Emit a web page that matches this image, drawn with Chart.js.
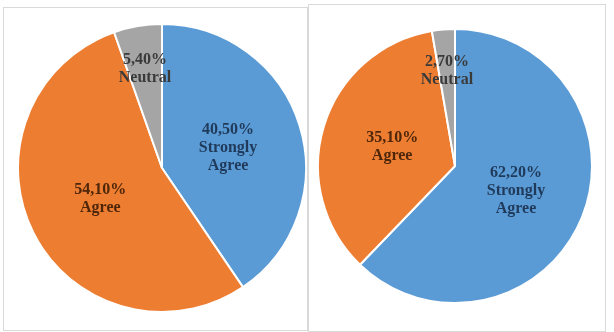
<!DOCTYPE html>
<html>
<head>
<meta charset="utf-8">
<script src="https://cdn.jsdelivr.net/npm/chart.js@4.4.0/dist/chart.umd.min.js"></script>
<style>
    body { margin: 0; width: 614px; height: 332px; background: #fff; position: relative; overflow: hidden; }
    .box { position: absolute; border: 1px solid #d9d9d9; box-sizing: border-box; }
    .wrap { position: absolute; }
</style>
</head>
<body>
<div class="box" style="left:3px; top:7px; width:305px; height:324px;"></div>
<div class="box" style="left:308px; top:4px; width:298px; height:328px;"></div>
<div class="wrap" style="left:17px; top:23px; width:290px; height:290px;"><canvas id="leftChart"></canvas></div>
<div class="wrap" style="left:317px; top:28px; width:276px; height:276px;"><canvas id="rightChart"></canvas></div>
<script>
const categories = ['Strongly Agree', 'Agree', 'Neutral'];
const labelWords = [['Strongly', 'Agree'], ['Agree'], ['Neutral']];
const leftValues = [40.5, 54.1, 5.4];
const rightValues = [62.2, 35.1, 2.7];

const sliceColors = ['#5b9bd5', '#ed7d31', '#a5a5a5'];
const textColors = ['#1f3a5a', '#4e260a', '#3a3a3a'];

const fmt = v => v.toFixed(2).replace('.', ',') + '%';

// draws "value% / name" inside each slice
const sliceLabels = {
    id: 'sliceLabels',
    afterDatasetsDraw(chart) {
        const ctx = chart.ctx;
        const meta = chart.getDatasetMeta(0);
        const values = chart.data.datasets[0].data;
        ctx.save();
        ctx.font = 'bold 16px "Liberation Serif", "DejaVu Serif", serif';
        ctx.textAlign = 'center';
        ctx.textBaseline = 'middle';
        meta.data.forEach((arc, i) => {
            const p = arc.getProps(['x', 'y', 'startAngle', 'endAngle', 'outerRadius'], true);
            const mid = (p.startAngle + p.endAngle) / 2;
            const f = values[i] < 8 ? 0.7 : 0.48;
            const cx = p.x + Math.cos(mid) * p.outerRadius * f;
            const cy = p.y + Math.sin(mid) * p.outerRadius * f;
            const lines = [fmt(values[i])].concat(labelWords[i]);
            const lh = 18;
            const top = cy - (lines.length - 1) * lh / 2;
            ctx.fillStyle = textColors[i];
            lines.forEach((t, k) => ctx.fillText(t, cx, top + k * lh));
        });
        ctx.restore();
    }
};

function makePie(id, values) {
    new Chart(document.getElementById(id), {
        type: 'pie',
        data: {
            labels: categories,
            datasets: [{
                data: values,
                backgroundColor: sliceColors,
                borderColor: '#ffffff',
                borderWidth: 2
            }]
        },
        options: {
            responsive: true, maintainAspectRatio: false,
            animation: false,
            layout: { padding: 0 },
            plugins: { legend: { display: false }, tooltip: { enabled: false } }
        },
        plugins: [sliceLabels]
    });
}

makePie('leftChart', leftValues);
makePie('rightChart', rightValues);
</script>
</body>
</html>
